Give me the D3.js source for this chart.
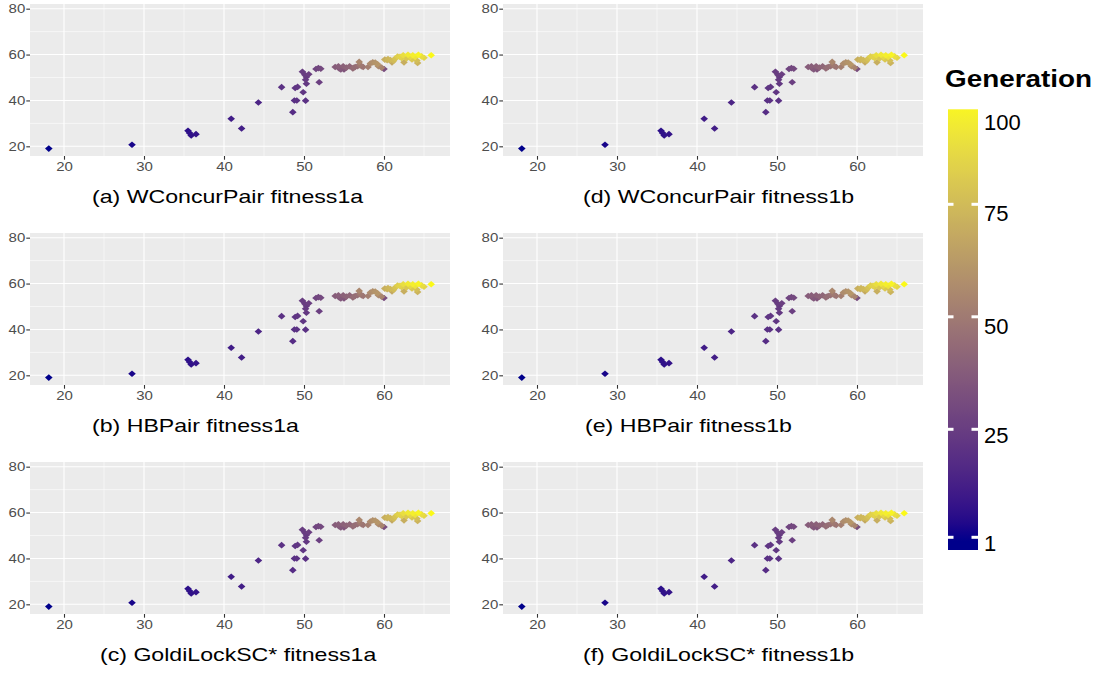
<!DOCTYPE html>
<html>
<head>
<meta charset="utf-8">
<script src="https://cdn.jsdelivr.net/npm/d3@7"></script>
<style>
  body { margin: 0; background: #ffffff; }
  text { font-family: "Liberation Sans", Arial, Helvetica, sans-serif; }
</style>
</head>
<body>
<svg id="chart" width="1102" height="673"></svg>
<script>
// Panel captions, laid out column by column
const panelTitles = [
  "(a) WConcurPair fitness1a",
  "(b) HBPair fitness1a",
  "(c) GoldiLockSC* fitness1a",
  "(d) WConcurPair fitness1b",
  "(e) HBPair fitness1b",
  "(f) GoldiLockSC* fitness1b"
];

// Search trajectory: x / y fitness of each individual and its generation
const xVals = [18.1, 28.5, 35.5, 35.7, 35.9, 36.5, 40.9, 42.2, 44.3, 47.2,
  48.6, 48.8, 49.1, 48.9, 49.2, 49.9, 50.2, 49.8, 50.1, 50.3,
  50.6, 50.3, 50.2, 51.5, 51.8, 52.1, 51.9, 53.9, 54.3, 54.6,
  54.9, 55.3, 55.7, 56.1, 56.4, 56.7, 56.9, 57.2, 57.4, 55.0,
  54.4, 56.2, 57.0, 58.0, 58.3, 58.6, 58.9, 59.2, 59.3, 59.7,
  60.0, 60.1, 60.4, 60.8, 61.0, 61.2, 61.4, 61.7, 62.0, 62.4,
  62.5, 62.8, 63.0, 63.3, 63.6, 63.9, 64.1, 64.2, 64.3, 64.7,
  65.0, 65.9, 60.5, 62.2, 63.5];
const yVals = [19.0, 20.7, 26.8, 25.8, 24.7, 25.3, 32.0, 27.8, 39.1, 45.8,
  34.9, 40.0, 40.0, 45.4, 45.9, 43.6, 39.9, 52.5, 51.2, 50.2,
  51.4, 47.3, 49.0, 53.7, 54.1, 53.8, 47.9, 54.6, 54.9, 53.5,
  54.9, 54.3, 54.9, 53.9, 54.6, 54.9, 56.8, 54.9, 54.6, 53.5,
  53.9, 54.2, 55.4, 54.6, 56.1, 56.6, 56.5, 55.8, 54.9, 54.3,
  53.7, 57.8, 57.5, 57.6, 56.6, 57.3, 58.3, 59.1, 59.0, 59.7,
  56.6, 58.3, 59.9, 59.0, 59.7, 59.0, 57.4, 56.3, 59.9, 59.2,
  58.6, 59.7, 58.0, 58.5, 57.9];
const generation = [1, 3, 6, 7, 7, 8, 11, 12, 15, 20,
  18, 19, 20, 21, 22, 22, 20, 25, 25, 24,
  26, 23, 24, 28, 29, 30, 26, 38, 39, 36,
  40, 41, 42, 43, 44, 46, 55, 47, 48, 35,
  37, 45, 50, 52, 57, 58, 60, 61, 56, 54,
  32, 70, 72, 74, 68, 75, 78, 82, 84, 88,
  70, 80, 92, 86, 94, 90, 76, 72, 96, 88,
  85, 98, 73, 82, 80];

const xTicks = [20, 30, 40, 50, 60];
const yTicks = [20, 40, 60, 80];
const xMinor = [25, 35, 45, 55, 65];
const yMinor = [30, 50, 70];
const legendBreaks = [1, 25, 50, 75];
const legendLabels = ["100", "75", "50", "25", "1"];
const legendTitle = "Generation";

const points = xVals.map((x, i) => ({ x, y: yVals[i], g: generation[i] }))
  .sort((a, b) => a.g - b.g);

const svg = d3.select("#chart");
const stretch = 1.25;           // horizontal text proportion
const plotW = 420, plotH = 152;
const colX = [30, 503];
const rowY = [4, 233, 462];
const captionX = [92, 92, 100, 583, 585, 583];

const color = d3.scaleLinear().domain([1, 100])
  .range(["#00008B", "#FFFF00"]).interpolate(d3.interpolateLab).clamp(true);

const x = d3.scaleLinear().domain([15.75, 68.25]).range([0, plotW]);
const y = d3.scaleLinear().domain([15.78, 82.04]).range([plotH, 0]);

const diamond = (rx, ry) => `M0,${-ry}L${rx},0L0,${ry}L${-rx},0Z`;

panelTitles.forEach((title, i) => {
  const col = Math.floor(i / 3), row = i % 3;
  const g = svg.append("g").attr("transform", `translate(${colX[col]},${rowY[row]})`);

  g.append("rect").attr("width", plotW).attr("height", plotH).attr("fill", "#EBEBEB");

  // minor grid
  g.selectAll(".vminor").data(xMinor).join("line")
    .attr("x1", d => x(d)).attr("x2", d => x(d)).attr("y1", 0).attr("y2", plotH)
    .attr("stroke", "#fff").attr("stroke-width", 0.55);
  g.selectAll(".hminor").data(yMinor).join("line")
    .attr("y1", d => y(d)).attr("y2", d => y(d)).attr("x1", 0).attr("x2", plotW)
    .attr("stroke", "#fff").attr("stroke-width", 0.55);
  // major grid
  g.selectAll(".vmajor").data(xTicks).join("line")
    .attr("x1", d => x(d)).attr("x2", d => x(d)).attr("y1", 0).attr("y2", plotH)
    .attr("stroke", "#fff").attr("stroke-width", 1.1);
  g.selectAll(".hmajor").data(yTicks).join("line")
    .attr("y1", d => y(d)).attr("y2", d => y(d)).attr("x1", 0).attr("x2", plotW)
    .attr("stroke", "#fff").attr("stroke-width", 1.1);

  // points
  g.selectAll(".pt").data(points).join("path")
    .attr("d", diamond(3.8, 3.3))
    .attr("transform", d => `translate(${x(d.x)},${y(d.y)})`)
    .attr("fill", d => color(d.g));

  // axes
  const xa = g.append("g").attr("transform", `translate(0,${plotH})`)
    .call(d3.axisBottom(x).tickValues(xTicks).tickSize(3.7).tickPadding(3));
  const ya = g.append("g")
    .call(d3.axisLeft(y).tickValues(yTicks).tickSize(3.7).tickPadding(1));
  [xa, ya].forEach(a => {
    a.select(".domain").remove();
    a.selectAll(".tick line").attr("stroke", "#333333").attr("stroke-width", 1.1);
    a.selectAll(".tick text").attr("fill", "#4D4D4D").attr("font-size", 12)
      .attr("font-family", "Liberation Sans, Arial, sans-serif");
  });
  xa.selectAll(".tick text").attr("transform", `scale(${stretch},1)`);
  ya.selectAll(".tick text").attr("x", -4.7 / stretch).attr("transform", `scale(${stretch},1)`);

  // caption
  svg.append("text")
    .attr("transform", `translate(${captionX[i]},${rowY[row] + 199}) scale(${stretch},1)`)
    .attr("text-anchor", "start").attr("font-size", 18.5).attr("fill", "#000")
    .text(title);
});

// Colour bar legend
const legX = 948, legW = 30;
const legScale = d3.scaleLinear().domain([1, 75]).range([537.3, 204.3]);
const barTop = 109.3, barBot = 550;
const vTop = legScale.invert(barTop), vBot = legScale.invert(barBot);

const defs = svg.append("defs");
const grad = defs.append("linearGradient").attr("id", "genGrad")
  .attr("x1", 0).attr("y1", 1).attr("x2", 0).attr("y2", 0);
d3.range(0, 1.0001, 0.02).forEach(t => {
  const v = vBot + t * (vTop - vBot);
  grad.append("stop").attr("offset", t).attr("stop-color", color(v));
});
svg.append("rect").attr("x", legX).attr("y", barTop)
  .attr("width", legW).attr("height", barBot - barTop).attr("fill", "url(#genGrad)");

legendBreaks.forEach(b => {
  const yy = legScale(b);
  svg.append("rect").attr("x", legX).attr("y", yy - 1.5).attr("width", 5.5).attr("height", 3).attr("fill", "#fff");
  svg.append("rect").attr("x", legX + legW - 6.5).attr("y", yy - 1.5).attr("width", 6.5).attr("height", 3).attr("fill", "#fff");
});

const labelY = [129.6, 221, 334, 443, 551];
svg.selectAll(".leglab").data(legendLabels).join("text")
  .attr("x", 984).attr("y", (d, i) => labelY[i])
  .attr("font-size", 22).attr("fill", "#000").text(d => d);

svg.append("text").attr("x", 945).attr("y", 87)
  .attr("font-size", 23).attr("font-weight", "bold").attr("fill", "#000")
  .attr("textLength", 147).attr("lengthAdjust", "spacingAndGlyphs")
  .text(legendTitle);
</script>
</body>
</html>
